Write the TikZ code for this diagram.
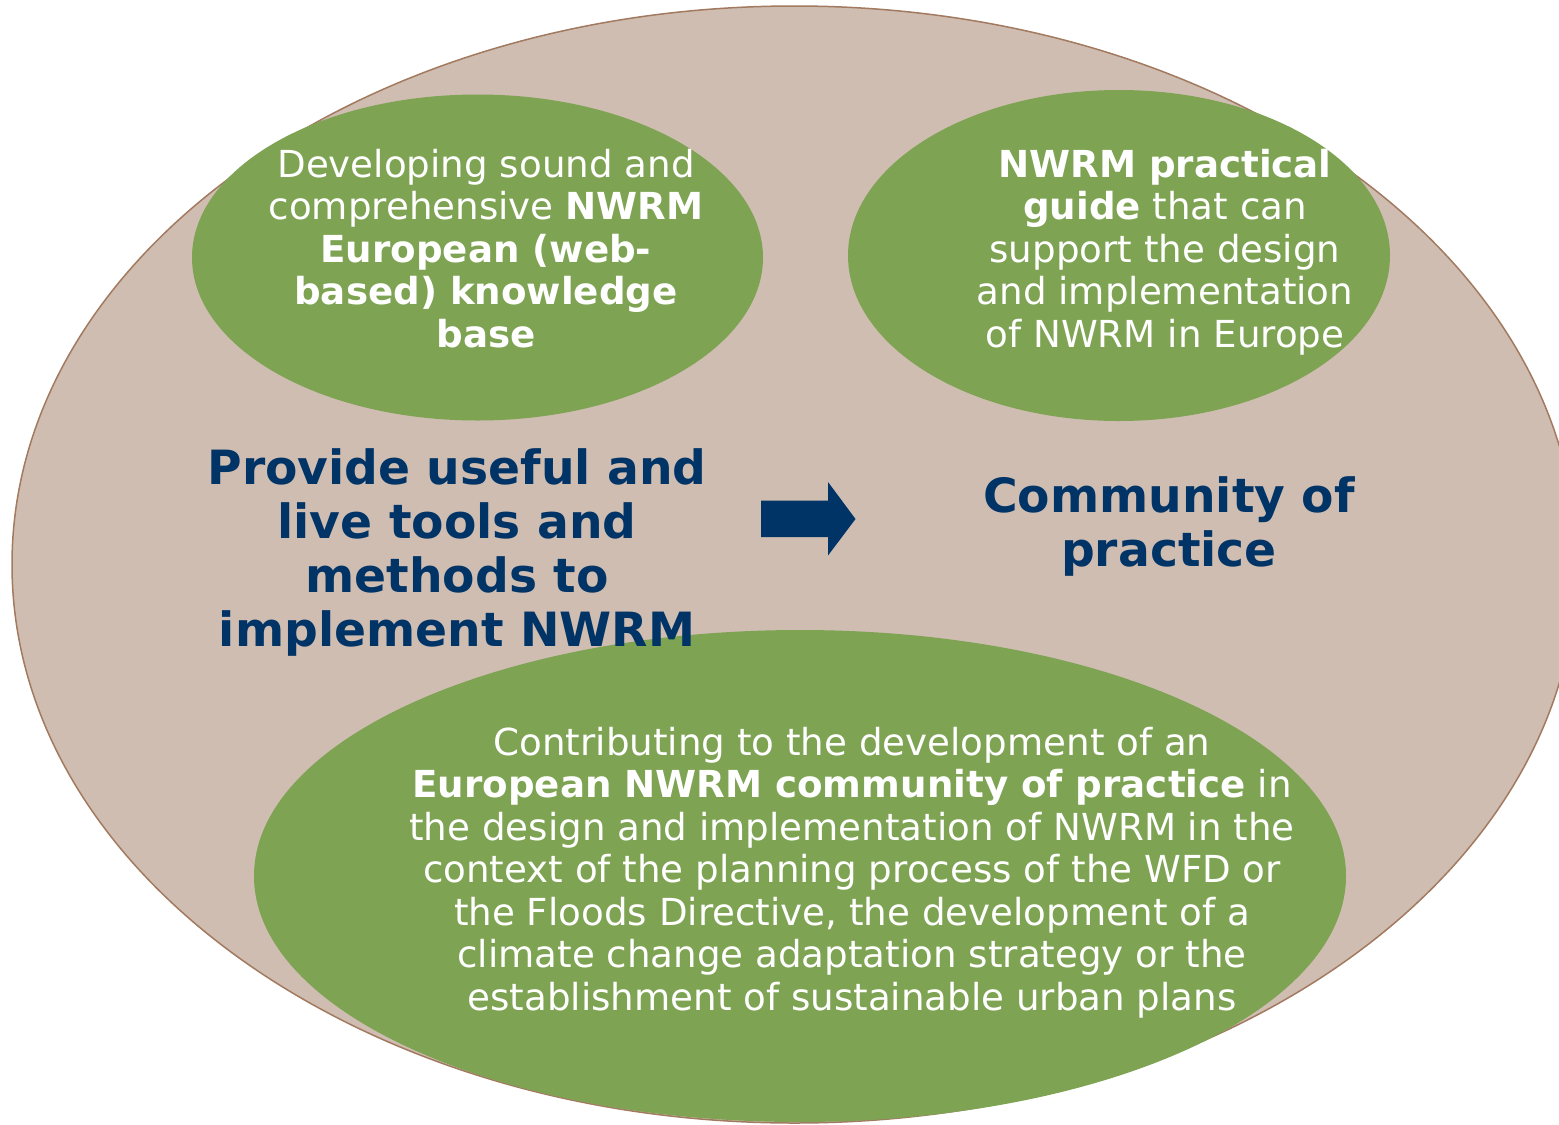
\documentclass[tikz,border=0pt]{standalone}
\usepackage{fontspec}
\setmainfont{DejaVu Sans}
\usetikzlibrary{shapes.geometric}
\definecolor{tanfill}{HTML}{CFBDB1}
\definecolor{tanline}{HTML}{A27A60}
\definecolor{leaf}{HTML}{7EA353}
\definecolor{navy}{HTML}{003366}
\tikzset{
  greenblob/.style={ellipse, fill=leaf, inner sep=0pt},
  smalltext/.style={text=white, align=center, inner sep=0pt, anchor=base,
    font=\fontsize{37.2}{42.5}\selectfont},
  bigtext/.style={text=navy, align=center, inner sep=0pt, anchor=base,
    font=\bfseries\fontsize{47.2}{54}\selectfont},
}
\begin{document}
\begin{tikzpicture}[x=1pt, y=-1pt]
\useasboundingbox (0,0) rectangle (1559,1125);
\clip (0,0) rectangle (1559,1125);
\node[ellipse, draw=tanline, line width=1.5pt, fill=tanfill, inner sep=0pt,
  minimum width=1565pt, minimum height=1117pt] (outer) at (794.5,564.5) {};
\node[greenblob, minimum width=571pt, minimum height=326pt] (kb) at (477.5,257.5) {};
\node[greenblob, minimum width=542pt, minimum height=331pt] (guide) at (1119,255.5) {};
\node[greenblob, minimum width=1092pt, minimum height=492pt] (cop) at (800,876) {};
\node[smalltext] (kbt) at (486,347) {Developing sound and\\comprehensive \textbf{NWRM}\\\textbf{European (web-}\\\textbf{based) knowledge}\\\textbf{base}};
\node[smalltext] (guidet) at (1165,347) {\textbf{NWRM practical}\\\textbf{guide} that can\\support the design\\and implementation\\of NWRM in Europe};
\node[smalltext] (copt) at (852,1010) {Contributing to the development of an\\\textbf{European NWRM community of practice} in\\the design and implementation of NWRM in the\\context of the planning process of the WFD or\\the Floods Directive, the development of a\\climate change adaptation strategy or the\\establishment of sustainable urban plans};
\node[bigtext] (tools) at (457,646) {Provide useful and\\live tools and\\methods to\\implement NWRM};
\node[bigtext] (community) at (1169,566) {Community of\\practice};
\fill[navy] (761,500.5) -- (828,500.5) -- (828,482) -- (855.5,519) -- (828,555.5) -- (828,537) -- (761,537) -- cycle;
\end{tikzpicture}
\end{document}
